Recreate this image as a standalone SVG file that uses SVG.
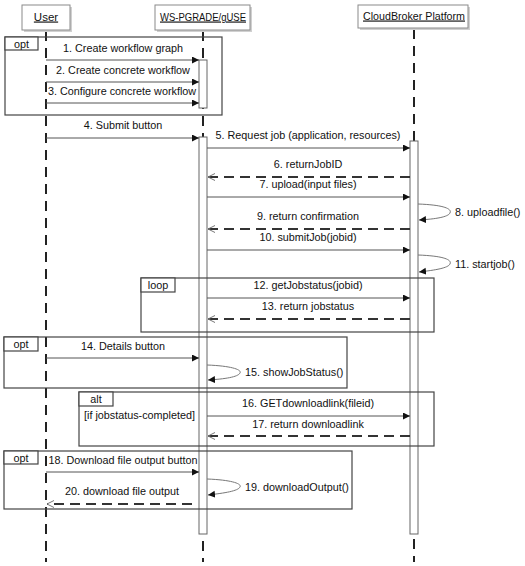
<svg xmlns="http://www.w3.org/2000/svg" width="525" height="566" viewBox="0 0 525 566">
<defs>
<marker id="fill" markerUnits="userSpaceOnUse" markerWidth="8" markerHeight="8" refX="7" refY="3.5" orient="auto"><path d="M0,0 L7,3.5 L0,7 z" fill="#111"/></marker>
<marker id="open" markerUnits="userSpaceOnUse" markerWidth="9" markerHeight="9" refX="7" refY="3.5" orient="auto"><path d="M0,0 L7,3.5 L0,7" fill="none" stroke="#777" stroke-width="1"/></marker>
</defs>
<style>
text{font-family:"Liberation Sans",Arial,sans-serif;font-size:10.8px;fill:#111}
.c{text-anchor:middle}
.h{font-size:11.5px}
.hd{fill:#fff;stroke:#8a8a8a;stroke-width:1}
.sh{fill:#d0d0d0}
.life{stroke:#222;stroke-width:2;stroke-dasharray:10 7;fill:none}
.act{fill:#fff;stroke:#666;stroke-width:1}
.frame{fill:none;stroke:#444;stroke-width:1.2}
.tab{fill:#fff;stroke:#444;stroke-width:1.2}
.msg{stroke:#555;stroke-width:1;fill:none;marker-end:url(#fill)}
.ret{stroke:#333;stroke-width:2;stroke-dasharray:10 6;fill:none;marker-end:url(#open)}
.self{stroke:#777;stroke-width:1;fill:none;marker-end:url(#fill)}
</style>

<g id="lifelines">
<line class="life" x1="46" y1="31" x2="46" y2="562"/>
<line class="life" x1="203" y1="31" x2="203" y2="562"/>
<line class="life" x1="414" y1="29" x2="414" y2="562"/>
</g>

<g id="user">
<rect class="sh" x="24" y="7" width="48" height="25"/>
<rect class="hd" x="22" y="5" width="48" height="25"/>
<text class="c h" x="46" y="20.5" text-decoration="underline">User</text>
</g>
<g id="wspgrade">
<rect class="sh" x="157" y="7" width="95" height="25"/>
<rect class="hd" x="155" y="5" width="95" height="25"/>
<text class="c h" x="203" y="20.5" text-decoration="underline" textLength="86" lengthAdjust="spacingAndGlyphs">WS-PGRADE/gUSE</text>
</g>
<g id="cloudbroker">
<rect class="sh" x="360" y="7" width="110" height="23"/>
<rect class="hd" x="358" y="5" width="110" height="23"/>
<text class="c h" x="414" y="19.5" text-decoration="underline" textLength="102" lengthAdjust="spacingAndGlyphs">CloudBroker Platform</text>
</g>

<g id="activations">
<rect class="act" x="199" y="60" width="8" height="48"/>
<rect class="act" x="199" y="137" width="8" height="397"/>
<rect class="act" x="410" y="141" width="8" height="393"/>
</g>

<g id="frame-opt1">
<rect class="frame" x="5" y="37" width="217" height="78"/>
<rect class="tab" x="5" y="37" width="33" height="13"/>
<text class="c" x="21.5" y="47.5">opt</text>
</g>
<g id="frame-loop">
<rect class="frame" x="141" y="278" width="293" height="54"/>
<rect class="tab" x="141" y="278" width="34" height="14"/>
<text class="c" x="158" y="289">loop</text>
</g>
<g id="frame-opt2">
<rect class="frame" x="4" y="337" width="343" height="51"/>
<rect class="tab" x="4" y="337" width="34" height="14"/>
<text class="c" x="21" y="348">opt</text>
</g>
<g id="frame-alt">
<rect class="frame" x="79" y="392" width="355" height="54"/>
<rect class="tab" x="79" y="392" width="34" height="14"/>
<text class="c" x="96" y="403">alt</text>
<text x="84" y="419">[if jobstatus-completed]</text>
</g>
<g id="frame-opt3">
<rect class="frame" x="4" y="451" width="348" height="58"/>
<rect class="tab" x="4" y="451" width="34" height="13"/>
<text class="c" x="21" y="461.5">opt</text>
</g>

<g id="connectors">
<line class="msg" x1="46" y1="60" x2="199" y2="60"/>
<line class="msg" x1="46" y1="82" x2="199" y2="82"/>
<line class="msg" x1="46" y1="103" x2="199" y2="103"/>
<line class="msg" x1="46" y1="138" x2="199" y2="138"/>
<line class="msg" x1="207" y1="148" x2="410" y2="148"/>
<line class="ret" x1="410" y1="177" x2="208" y2="177"/>
<line class="msg" x1="207" y1="197" x2="410" y2="197"/>
<path class="self" d="M418,204 C445,205 452,209 450,213 C448,217 436,219 419,220"/>
<line class="ret" x1="410" y1="229" x2="208" y2="229"/>
<line class="msg" x1="207" y1="250" x2="410" y2="250"/>
<path class="self" d="M418,255 C445,256 452,260 450,264 C448,268 436,270 419,272"/>
<line class="msg" x1="207" y1="298" x2="410" y2="298"/>
<line class="ret" x1="410" y1="319" x2="208" y2="319"/>
<line class="msg" x1="46" y1="358" x2="199" y2="358"/>
<path class="self" d="M207,365 C233,366 242,370 240,373 C238,377 225,379 208,380"/>
<line class="msg" x1="207" y1="416" x2="410" y2="416"/>
<line class="ret" x1="410" y1="436" x2="208" y2="436"/>
<line class="msg" x1="46" y1="472" x2="199" y2="472"/>
<path class="self" d="M207,479 C233,480 242,484 240,487 C238,491 225,493 208,495"/>
<line class="ret" x1="192" y1="504" x2="47" y2="504"/>
</g>

<g id="labels">
<text class="c" x="123" y="52">1. Create workflow graph</text>
<text class="c" x="123" y="74">2. Create concrete workflow</text>
<text class="c" x="122" y="95">3. Configure concrete workflow</text>
<text class="c" x="123" y="129">4. Submit button</text>
<text class="c" x="308" y="139">5. Request job (application, resources)</text>
<text class="c" x="308" y="168">6. returnJobID</text>
<text class="c" x="308" y="188">7. upload(input files)</text>
<text x="455" y="216">8. uploadfile()</text>
<text class="c" x="308" y="220">9. return confirmation</text>
<text class="c" x="308" y="241">10. submitJob(jobid)</text>
<text x="455" y="268">11. startjob()</text>
<text class="c" x="308" y="289">12. getJobstatus(jobid)</text>
<text class="c" x="308" y="310">13. return jobstatus</text>
<text class="c" x="123" y="350">14. Details button</text>
<text x="245" y="376">15. showJobStatus()</text>
<text class="c" x="308" y="407">16. GETdownloadlink(fileid)</text>
<text class="c" x="308" y="428">17. return downloadlink</text>
<text class="c" x="123" y="464">18. Download file output button</text>
<text x="245" y="491">19. downloadOutput()</text>
<text class="c" x="122" y="495">20. download file output</text>
</g>
</svg>
